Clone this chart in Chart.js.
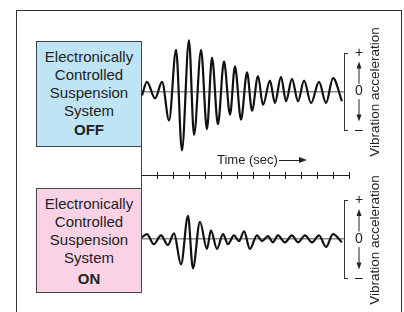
<!DOCTYPE html>
<html>
<head>
<meta charset="utf-8">
<script src="https://cdn.jsdelivr.net/npm/chart.js@4/dist/chart.umd.min.js"></script>
<style>
  body { margin: 0; width: 404px; height: 312px; overflow: hidden; background: #fff;
         position: relative; font-family: "Liberation Sans", Arial, sans-serif; color: #222; }
  .frame { position: absolute; left: 16px; top: 10px; width: 384px; height: 340px; border: 1px solid #333; }
  .box { position: absolute; left: 36px; width: 106px; border: 1px solid #444; text-align: center;
         font-size: 15px; line-height: 18px; box-sizing: border-box; padding-top: 6px; }
  .box b { display: block; margin-top: 1px; }
  #boxOff { top: 41px; height: 106px; background: #bfe4f5; }
  #boxOn { top: 188px; height: 105px; background: #f9d3e5; }
  .link { position: absolute; left: 141px; top: 147px; width: 1px; height: 41px; background: #444; }
  canvas { position: absolute; }
  .vlabel { position: absolute; font-size: 13.5px; white-space: nowrap; line-height: 1;
            transform: translate(-50%, -50%) rotate(-90deg); }
  .time { position: absolute; left: 217px; top: 152px; font-size: 13px; line-height: 16px; }
  .tline { position: absolute; left: 279px; top: 160px; width: 22px; height: 1px; background: #222; }
  .thead { position: absolute; left: 299px; top: 157px; width: 0; height: 0;
           border-left: 8px solid #222; border-top: 3px solid transparent; border-bottom: 3px solid transparent; }
</style>
</head>
<body>
<div class="frame"></div>
<div class="box" id="boxOff">Electronically<br>Controlled<br>Suspension<br>System<b>OFF</b></div>
<div class="box" id="boxOn">Electronically<br>Controlled<br>Suspension<br>System<b style="margin-top:3px">ON</b></div>
<div class="link"></div>
<canvas id="topChart" width="274" height="155" style="left:130px;top:30px"></canvas>
<canvas id="timeChart" width="240" height="20" style="left:130px;top:165px"></canvas>
<canvas id="botChart" width="274" height="110" style="left:130px;top:185px"></canvas>
<div class="vlabel" style="left:375px;top:92px">Vibration acceleration</div>
<div class="vlabel" style="left:375px;top:240px">Vibration acceleration</div>
<div class="time">Time (sec)</div>
<div class="tline"></div>
<div class="thead"></div>
<script>
// time in tick intervals, acceleration relative to the +/- bracket

// suspension OFF
const topTime = [0, 0.31, 0.82, 1.26, 1.70, 2.14, 2.51, 2.95, 3.27, 3.71, 4.08, 4.40, 4.77, 5.15, 5.53, 5.84,
  6.22, 6.60, 6.91, 7.29, 7.60, 8.04, 8.35, 8.73, 9.05, 9.42, 9.80, 10.18, 10.62, 11.12, 11.56, 12.00, 12.56];
const topAccel = [-0.10, 0.25, -0.18, 0.25, -0.75, 1.08, -1.53, 1.33, -1.13, 1.08, -0.98, 0.88, -0.85, 0.78, -0.60, 0.65,
  -0.73, 0.50, -0.50, 0.40, -0.35, 0.28, -0.30, 0.38, -0.25, 0.33, -0.25, 0.28, -0.30, 0.25, -0.30, 0.35, -0.25];

// suspension ON
const botTime = [0, 0.31, 0.75, 1.19, 1.63, 2.01, 2.45, 2.89, 3.20, 3.64, 4.08, 4.33, 4.71, 5.09, 5.40, 5.78,
  6.09, 6.41, 6.78, 7.22, 7.54, 7.91, 8.23, 8.54, 8.98, 9.42, 9.80, 10.24, 10.68, 11.12, 11.56, 12.00, 12.56];
const botAccel = [0.05, 0.13, -0.13, 0.10, -0.15, 0.15, -0.65, 0.60, -0.75, 0.45, -0.25, 0.23, -0.25, 0.13, -0.13, 0.10,
  -0.05, 0.20, -0.25, 0.10, -0.05, 0.08, -0.08, 0.10, -0.08, 0.10, -0.08, 0.10, -0.08, 0.10, -0.20, 0.13, -0.08];

// time axis: 13 unlabeled ticks
const timeMax = 13;

// y axis labels and arrows
const accelLabels = { '1': '+', '0': '0', '-1': '\u2013' };
const arrowUp = [0.2, 0.78];
const arrowDown = [-0.2, -0.78];

const pts = (xs, ys) => xs.map((x, i) => ({ x: x, y: ys[i] }));

// draws the small up/down arrows between the + 0 - labels
const arrowPlugin = {
  id: 'arrows',
  afterDraw(chart) {
    const ys = chart.scales.y;
    const ctx = chart.ctx;
    const x = ys.left + 15;
    ctx.save();
    ctx.strokeStyle = '#222';
    ctx.fillStyle = '#222';
    ctx.lineWidth = 1;
    [arrowUp, arrowDown].forEach(a => {
      const y0 = ys.getPixelForValue(a[0]);
      const y1 = ys.getPixelForValue(a[1]);
      const dir = y1 < y0 ? 1 : -1;
      ctx.beginPath();
      ctx.moveTo(x, y0);
      ctx.lineTo(x, y1 + dir * 4);
      ctx.stroke();
      ctx.beginPath();
      ctx.moveTo(x, y1);
      ctx.lineTo(x - 2.5, y1 + dir * 7);
      ctx.lineTo(x + 2.5, y1 + dir * 7);
      ctx.closePath();
      ctx.fill();
    });
    ctx.restore();
  }
};

function makeOptions(padTop, padBottom) {
  return {
    responsive: false,
    animation: false,
    layout: { padding: { left: 12, right: 30, top: padTop, bottom: padBottom } },
    plugins: { legend: { display: false }, tooltip: { enabled: false } },
    scales: {
      x: { type: 'linear', display: false, min: 0, max: 12.69 },
      y: {
        position: 'right', min: -1, max: 1,
        afterFit: s => { s.width = 30; },
        border: { display: true, color: '#333', width: 1 },
        grid: {
          drawOnChartArea: true,
          tickLength: 4,
          color: c => c.tick && c.tick.value === 0 ? '#8a8a8a' : 'transparent',
          tickColor: c => c.tick && c.tick.value === 0 ? 'transparent' : '#333',
          lineWidth: c => c.tick && c.tick.value === 0 ? 1.5 : 1
        },
        ticks: {
          stepSize: 1, padding: 7, color: '#222',
          font: { family: '"Liberation Sans", Arial, sans-serif', size: 14 },
          callback: v => accelLabels[String(v)]
        }
      }
    }
  };
}

const waveStyle = {
  borderColor: '#111', borderWidth: 2.2, pointRadius: 0,
  cubicInterpolationMode: 'monotone', clip: false, fill: false
};

new Chart(document.getElementById('topChart'), {
  type: 'line',
  data: { datasets: [Object.assign({ data: pts(topTime, topAccel) }, waveStyle)] },
  options: makeOptions(23, 55),
  plugins: [arrowPlugin]
});

new Chart(document.getElementById('botChart'), {
  type: 'line',
  data: { datasets: [Object.assign({ data: pts(botTime, botAccel) }, waveStyle)] },
  options: makeOptions(15, 17),
  plugins: [arrowPlugin]
});

// the time axis between the two traces
new Chart(document.getElementById('timeChart'), {
  type: 'line',
  data: {
    datasets: [{
      data: [{ x: 0, y: 0 }, { x: timeMax, y: 0 }],
      borderColor: '#222', borderWidth: 1, pointRadius: 0
    }]
  },
  options: {
    responsive: false,
    animation: false,
    layout: { padding: { left: 12, right: 21, top: 7, bottom: 6 } },
    plugins: { legend: { display: false }, tooltip: { enabled: false } },
    scales: {
      x: {
        type: 'linear', min: 0, max: timeMax,
        afterFit: s => { s.height = 0; },
        border: { display: false },
        ticks: { stepSize: 1, display: false },
        grid: {
          drawTicks: false, drawOnChartArea: true, lineWidth: 1,
          color: c => c.tick && c.tick.value === 0 ? 'transparent' : '#222'
        }
      },
      y: { display: false, min: -1, max: 1 }
    }
  }
});
</script>
</body>
</html>
